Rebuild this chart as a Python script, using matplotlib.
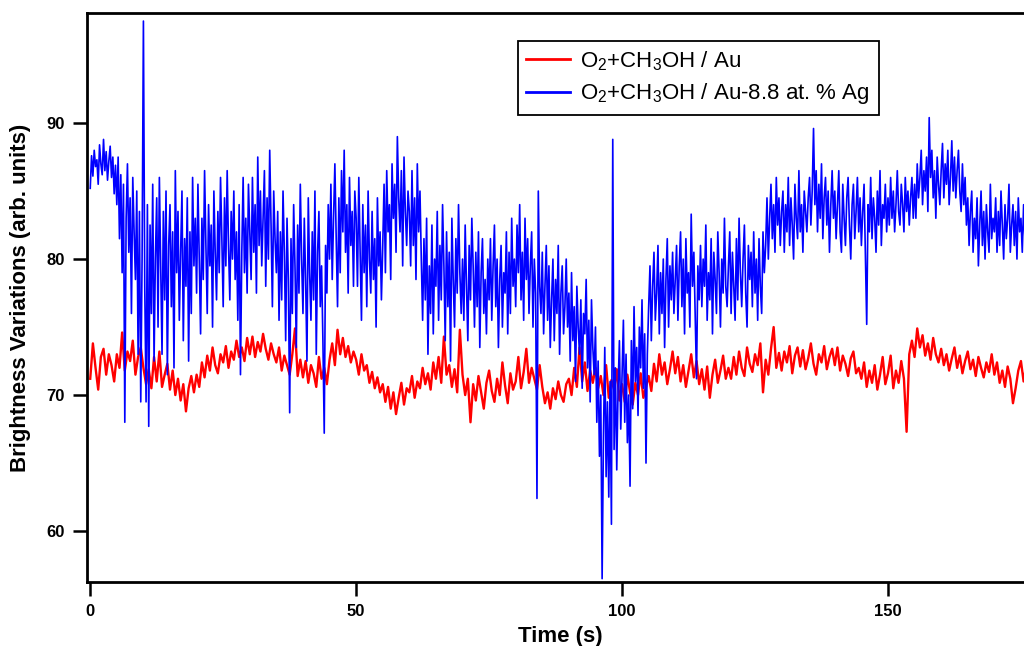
import numpy as np
import matplotlib
matplotlib.use('Agg')
import matplotlib.pyplot as plt
from matplotlib.ticker import MultipleLocator

plt.rcParams['font.family'] = ['Liberation Sans', 'DejaVu Sans']
plt.rcParams['mathtext.fontset'] = 'custom'
plt.rcParams['mathtext.rm'] = 'Liberation Sans'

# sampling times (s)
time_blue = np.arange(0, 176.001, 0.25)
time_red = np.arange(0, 176.001, 0.5)

# O2+CH3OH / Au-8.8 at. % Ag  (5 s per row)
blue_vals = [
    85.2, 87.6, 86.1, 88.0, 86.8, 87.3, 85.5, 88.4, 87.0, 86.2, 88.8, 86.5, 87.9, 85.8, 87.2, 88.3, 86.0, 87.5, 84.8, 86.9,
    84.0, 87.5, 81.5, 86.2, 79.0, 85.5, 68.0, 83.0, 87.0, 80.5, 84.5, 76.0, 86.0, 82.0, 78.5, 85.0, 73.0, 83.5, 69.5, 80.0,
    97.5, 78.0, 69.5, 84.0, 67.7, 82.5, 76.0, 85.5, 72.5, 80.0, 84.5, 75.0, 86.0, 79.5, 73.0, 83.5, 77.0, 85.0, 71.5, 81.0,
    84.0, 76.5, 82.0, 72.0, 86.5, 79.0, 83.5, 75.5, 80.5, 85.0, 74.0, 81.5, 78.0, 84.5, 72.5, 82.0, 76.0, 86.0, 79.5, 83.0,
    77.5, 85.5, 80.0, 74.5, 83.0, 78.5, 86.5, 81.0, 76.0, 84.0, 79.5, 82.5, 75.0, 85.0, 80.5, 77.0, 83.5, 79.0, 86.0, 81.5,
    76.5, 84.5, 79.5, 86.5, 81.0, 77.0, 83.5, 80.0, 85.0, 78.5, 82.0, 75.5, 84.0, 71.5, 80.5, 86.0, 79.0, 83.0, 77.5, 85.5,
    82.0, 78.5, 86.0, 80.5, 84.0, 77.5, 87.5, 81.0, 85.0, 79.5, 83.0, 86.5, 78.0, 84.5, 80.0, 88.0, 82.5, 76.5, 85.0, 81.5,
    79.0, 83.5, 75.5, 82.0, 77.0, 85.0, 80.5, 74.0, 83.0, 78.5, 68.7, 81.5, 76.0, 84.0, 79.5, 73.5, 82.5, 77.5, 85.5, 80.0,
    76.0, 83.0, 78.5, 72.5, 84.5, 79.0, 75.5, 82.0, 77.0, 85.0, 73.0, 80.5, 83.5, 76.5, 79.5, 74.0, 67.2, 81.0, 77.5, 84.0,
    80.0, 85.5, 78.5, 83.0, 87.0, 81.5, 76.5, 84.5, 79.0, 86.5, 82.0, 88.0, 80.5, 84.0, 77.5, 86.0, 81.0, 83.5, 78.0, 85.0,
    83.0, 78.0, 86.0, 80.5, 75.5, 84.0, 79.0, 82.5, 76.5, 85.0, 80.0, 77.5, 83.5, 78.5, 81.5, 75.0, 84.5, 79.5, 82.0, 77.0,
    81.0, 85.5, 79.0, 86.5, 82.0, 84.0, 78.5, 87.0, 83.0, 85.5, 80.5, 89.0, 84.5, 82.0, 86.5, 79.5, 87.5, 83.5, 81.0, 85.0,
    83.5, 79.5, 86.5, 81.0, 84.5, 78.5, 87.0, 82.0, 85.0, 80.0, 75.5, 81.5, 77.0, 83.0, 73.0, 79.5, 76.0, 82.5, 74.5, 80.0,
    78.0, 83.5, 75.5, 81.0, 77.0, 84.0, 79.5, 74.0, 82.0, 76.5, 80.5, 72.5, 83.0, 78.5, 75.0, 81.5, 77.5, 84.0, 79.0, 76.0,
    80.0, 75.5, 82.5, 78.0, 74.0, 81.0, 77.0, 83.0, 79.5, 75.0, 80.5, 76.5, 82.0, 73.5, 79.0, 81.5, 76.0, 78.5, 74.5, 80.0,
    77.0, 81.5, 75.5, 79.5, 82.5, 76.5, 80.0, 73.5, 78.5, 81.0, 75.0, 79.0, 77.5, 82.0, 74.5, 80.5, 76.0, 83.0, 78.0, 80.0,
    76.5, 82.5, 79.0, 84.0, 77.0, 80.5, 75.5, 83.0, 78.5, 81.5, 76.0, 79.5, 82.0, 75.0, 80.0, 77.5, 62.4, 85.0, 78.0, 76.0,
    80.5, 74.5, 78.0, 81.0, 75.5, 79.5, 73.5, 77.0, 80.0, 74.0, 78.5, 76.0, 81.0, 73.0, 77.5, 79.5, 74.5, 76.5, 80.0, 75.0,
    77.5, 72.5, 79.0, 74.0, 76.5, 71.0, 78.0, 75.0, 73.0, 77.0, 70.5, 76.0, 74.5, 78.5, 72.0, 75.5, 69.5, 77.0, 73.5, 71.5,
    75.0, 68.0, 72.5, 65.5, 70.0, 56.5, 67.0, 73.5, 64.0, 69.5, 62.5, 71.0, 60.5, 88.8, 66.0, 72.0, 64.5, 70.5, 74.0, 67.5,
    71.5, 75.5, 68.0, 73.0, 66.5, 70.0, 63.3, 74.0, 69.0, 76.5, 71.0, 73.5, 68.5, 75.0, 72.0, 77.0, 70.5, 74.5, 65.0, 73.0,
    76.5, 79.5, 74.0, 78.0, 80.5, 75.5, 77.5, 81.0, 74.5, 79.0, 76.0, 80.0, 73.5, 78.5, 81.5, 75.0, 79.5, 77.0, 80.5, 76.0,
    78.5, 81.0, 75.5, 79.5, 82.0, 76.5, 80.0, 74.5, 81.5, 77.5, 79.0, 75.0, 83.3, 78.0, 80.5, 76.0, 71.2, 79.5, 77.0, 81.0,
    76.5, 80.0, 78.0, 82.5, 75.5, 79.0, 77.0, 81.5, 74.5, 80.5, 78.5, 76.0, 82.0, 79.0, 75.0, 80.0, 77.5, 83.0, 78.0, 76.5,
    79.5, 82.0, 76.0, 80.5, 78.0, 75.5, 81.5, 77.0, 83.0, 79.0, 76.5, 80.0, 82.5, 77.5, 75.0, 81.0, 78.5, 80.5, 76.5, 82.0,
    77.5, 80.0, 75.5, 81.5, 78.0, 76.0, 82.0, 79.0, 81.0, 84.5, 80.0, 83.0, 85.5, 81.5, 84.0, 80.5, 86.0, 82.5, 84.5, 81.0,
    83.5, 85.0, 80.5, 84.0, 82.0, 86.0, 81.0, 84.5, 82.5, 80.0, 85.5, 83.0, 81.5, 86.5, 82.0, 84.0, 80.5, 85.0, 83.5, 82.0,
    84.5, 86.0, 82.5, 85.0, 89.6, 84.0, 86.5, 82.0, 85.5, 83.0, 87.0, 81.5, 84.5, 86.0, 82.5, 85.0, 80.5, 84.0, 86.5, 83.0,
    85.0, 81.5, 84.0, 86.5, 82.0, 80.5, 85.5, 83.0, 81.0, 84.5, 86.0, 82.5, 80.0, 84.0, 85.5, 81.5, 83.5, 86.0, 82.0, 84.5,
    81.0, 83.5, 85.5, 80.5, 75.2, 84.0, 82.0, 86.0, 81.5, 84.5, 83.0, 80.5, 85.0, 82.5, 86.5, 81.0, 84.0, 83.0, 85.5, 82.0,
    84.5, 82.5, 86.0, 83.0, 85.0, 82.0, 84.0, 86.5, 83.5, 82.5, 85.5, 84.0, 82.0, 86.0, 83.5, 85.0, 82.5, 84.5, 86.0, 83.0,
    85.5, 83.0, 87.0, 84.5, 86.0, 88.0, 84.0, 86.5, 85.0, 87.5, 83.5, 90.4, 86.0, 88.0, 84.5, 86.5, 83.0, 87.5, 85.5, 84.0,
    86.5, 88.5, 84.5, 87.0, 85.5, 88.0, 84.0, 86.0, 88.7, 85.0, 87.5, 84.5, 86.5, 88.0, 85.0, 83.5, 87.0, 84.0, 86.0, 82.5,
    84.5, 81.0, 83.5, 85.0, 80.5, 83.0, 81.5, 84.5, 79.5, 82.5, 85.0, 81.0, 83.5, 80.0, 84.0, 82.0, 80.5, 85.5, 81.5, 83.0,
    82.0, 84.5, 80.5, 83.5, 81.0, 85.0, 82.5, 80.0, 84.0, 81.5, 83.0, 85.5, 80.5, 82.5, 84.0, 81.0, 83.5, 80.0, 84.5, 82.0,
    83.0, 80.5, 84.0, 81.5, 83.5,
]

# O2+CH3OH / Au  (10 s per row)
red_vals = [
    71.2, 73.8, 72.0, 70.4, 72.8, 73.4, 71.5, 73.0, 72.2, 71.0, 73.0, 72.0, 74.6, 71.8, 73.2, 72.5, 74.0, 71.5, 72.8, 73.5,
    72.0, 70.8, 71.9, 70.5, 72.8, 71.0, 73.2, 70.6, 71.5, 72.3, 70.4, 71.8, 70.0, 71.2, 69.6, 70.8, 68.8, 70.5, 71.4, 70.2,
    71.5, 70.6, 72.4, 71.3, 72.9, 71.8, 73.5, 72.2, 71.6, 73.0, 72.4, 73.6, 72.0, 73.2, 72.6, 74.0, 72.8, 73.5, 72.5, 74.2,
    73.0, 74.3, 72.8, 73.9, 73.2, 74.5, 73.4, 72.6, 73.8, 73.0, 72.4, 73.5, 71.8, 72.9, 72.2, 71.5, 73.0, 74.9, 71.4, 72.6,
    71.3, 72.5, 70.9, 72.2, 71.6, 70.6, 72.8, 71.2, 72.0, 70.8, 72.6, 73.8, 72.2, 74.8, 73.0, 74.2, 72.8, 73.6, 72.4, 73.2,
    72.6, 71.5, 73.0, 71.8, 72.2, 70.9, 71.7, 70.5, 71.3, 70.2, 70.8, 69.5, 70.6, 69.0, 70.2, 68.6, 69.8, 70.9, 69.3, 70.5,
    70.2, 71.4, 69.8, 71.0, 70.5, 72.0, 70.8, 71.6, 70.4, 72.4, 71.2, 72.8, 70.9, 74.3, 71.5, 72.2, 70.6, 71.9, 70.2, 74.8,
    71.5, 70.0, 71.2, 68.0, 70.8, 69.6, 71.4, 70.2, 69.0, 70.9, 71.8, 70.3, 69.5, 71.2, 70.0, 72.4, 70.7, 69.4, 71.6, 70.4,
    71.0, 72.8, 70.5, 71.7, 73.4, 70.9, 72.0, 71.2, 70.4, 72.2, 70.6, 69.4, 70.2, 69.0, 70.5, 69.7, 71.0, 70.0, 69.5, 70.8,
    71.2, 70.0, 72.0, 70.6, 73.5, 71.0, 72.4, 70.3, 71.8, 70.9, 72.0, 70.5, 71.4, 70.0, 72.2, 69.8, 71.1, 70.4, 71.9, 69.6,
    70.8, 69.5, 71.5, 70.2, 69.3, 70.9, 70.0, 71.6, 69.8, 70.6, 71.4, 70.3, 72.3, 71.0, 73.0, 71.5, 72.4, 70.8, 71.9, 73.2,
    71.6, 72.8, 71.0, 72.2, 70.6, 71.8, 73.0, 71.3, 72.5, 70.8, 71.9, 70.4, 72.1, 69.8, 71.5, 72.6, 70.9, 71.8, 72.9, 71.2,
    72.0, 71.2, 72.8, 71.5, 73.2, 72.0, 71.4, 73.5, 72.3, 71.7, 73.0, 72.2, 73.8, 70.2, 72.6, 71.5, 73.4, 75.0, 72.0, 73.1,
    71.8, 73.2, 72.4, 73.6, 71.6, 72.9, 73.5, 72.1, 73.3, 71.9, 72.7, 73.8, 72.3, 71.5, 73.0, 72.4, 73.6, 71.9, 72.8, 73.4,
    72.2, 73.5, 71.8, 72.9, 72.3, 71.4, 72.7, 73.2, 71.6, 72.0, 71.2, 72.4, 70.6, 71.8, 70.9, 72.2, 70.4, 71.5, 72.8, 70.8,
    71.6, 72.9, 70.5, 71.8, 70.9, 72.5, 71.2, 67.3, 73.0, 74.0, 72.8, 74.9, 73.5, 74.4, 72.9, 73.8, 72.6, 74.2, 73.0, 72.4,
    73.4, 72.2, 73.0, 71.8, 72.7, 73.5, 72.0, 72.9, 71.6, 72.5, 73.2, 71.9, 72.6, 71.4, 72.8, 72.0, 71.3, 72.4, 71.7, 73.0,
    71.5, 72.4, 70.9, 71.8, 70.6, 72.1, 71.2, 69.4, 70.5, 71.8, 72.5, 71.0, 72.2,
]

label_au = 'O$\\mathregular{_2}$+CH$\\mathregular{_3}$OH / Au'
label_ag = 'O$\\mathregular{_2}$+CH$\\mathregular{_3}$OH / Au-8.8 at. % Ag'

fig = plt.figure(figsize=(10.24, 6.46), dpi=100)
ax = fig.add_axes([0.085, 0.099, 0.925, 0.881])

ax.plot(time_red, red_vals, color='#ff0000', linewidth=1.7, label=label_au, zorder=2)
ax.plot(time_blue, blue_vals, color='#0000ff', linewidth=1.2, label=label_ag, zorder=3)

ax.set_xlim(-0.6, 177.5)
ax.set_ylim(56.25, 98.1)

ax.xaxis.set_major_locator(MultipleLocator(50))
ax.yaxis.set_major_locator(MultipleLocator(10))

for s in ['left', 'bottom', 'top']:
    ax.spines[s].set_linewidth(2.0)
ax.spines['right'].set_visible(False)

ax.tick_params(axis='both', which='major', direction='out', length=10, width=1.8,
               labelsize=12, pad=6)
for lab in ax.get_xticklabels() + ax.get_yticklabels():
    lab.set_fontweight('bold')

ax.set_xlabel('Time (s)', fontsize=16, fontweight='bold', labelpad=5)
ax.set_ylabel('Brightness Variations (arb. units)', fontsize=16, fontweight='bold', labelpad=11)

leg = ax.legend(loc='upper left', bbox_to_anchor=(0.4545, 0.951), fontsize=16,
                frameon=True, fancybox=False, edgecolor='black', framealpha=1,
                handlelength=2.0, handletextpad=0.45, labelspacing=0.38,
                borderpad=0.38, borderaxespad=0)
leg.get_frame().set_linewidth(1.3)
for line in leg.get_lines():
    line.set_linewidth(2.0)

fig.savefig('out.png', dpi=100)
